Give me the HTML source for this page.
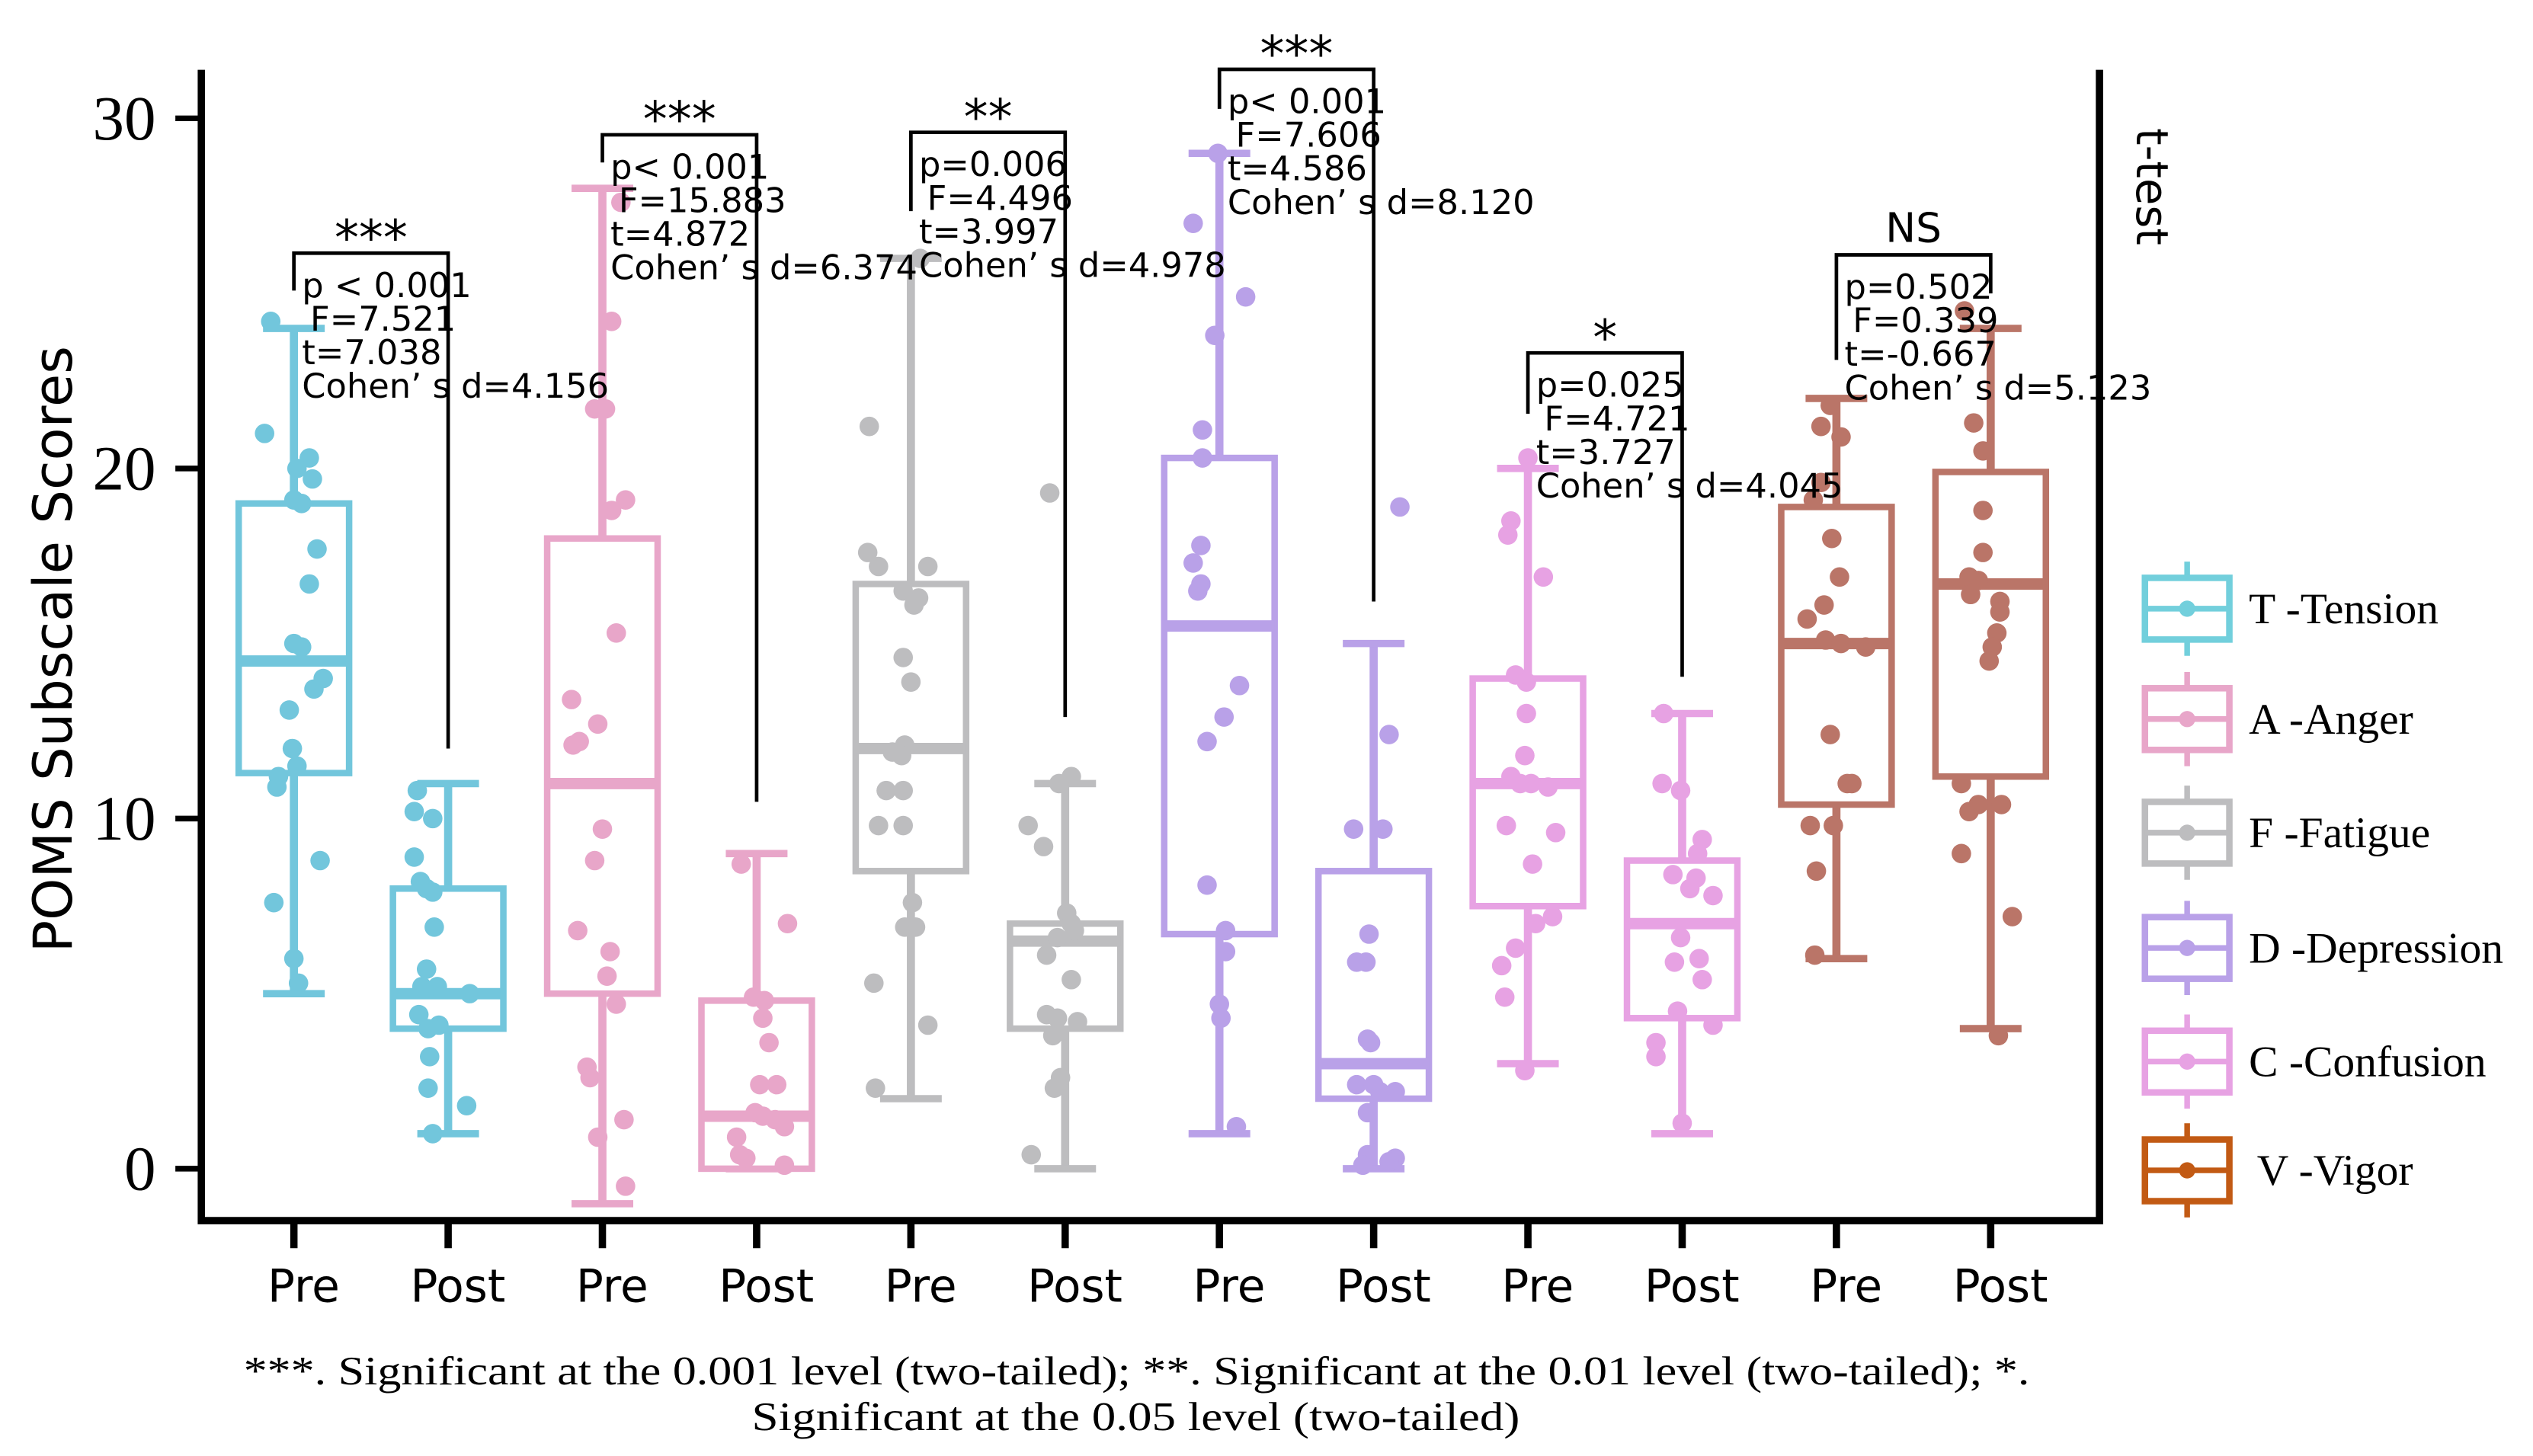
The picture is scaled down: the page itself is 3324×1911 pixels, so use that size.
<!DOCTYPE html>
<html><head><meta charset="utf-8"><style>
html,body{margin:0;padding:0;background:#fff}
svg{display:block}
.sans{font-family:"DejaVu Sans","Liberation Sans",sans-serif}
.serif{font-family:"Liberation Serif",serif}
</style></head><body>
<svg id="chart" width="3324" height="1911" viewBox="0 0 1560 897" preserveAspectRatio="none" xmlns="http://www.w3.org/2000/svg">
<g id="plot"></g>
</svg>
<script>
const categories=["Pre","Post","Pre","Post","Pre","Post","Pre","Post","Pre","Post","Pre","Post"];
const groupColors=["#72c6dc","#72c6dc","#e8a6c9","#e8a6c9","#bdbdbf","#bdbdbf","#b9a1e8","#b9a1e8","#e7a2e3","#e7a2e3","#ba7568","#ba7568"];
const whiskLow=[5,1,-1,0,2,0,1,0,3,1,6,4];
const whiskHigh=[24,11,28,9,26,11,29,15,20,13,22,24];
const q1=[11.3,4,5,0,8.5,4,6.7,2,7.5,4.3,10.4,11.2];
const q3=[19,8,18,4.8,16.7,7,20.3,8.5,14,8.8,18.9,19.9];
const medians=[14.5,5,11,1.5,12,6.5,15.5,3,11,7,15,16.7];
const points=[
[24.2,21,20.3,20,19.7,19.1,19,17.7,16.7,15,14.9,14,13.7,13.1,12,11.5,11.2,10.9,8.8,7.6,6,5.3],
[10.8,10.2,10,8.9,8.2,8,7.9,6.9,5.7,5.2,5.2,5,4.4,4,4.1,3.2,2.3,1.8,1],
[27.6,24.2,21.7,21.7,19.1,18.8,15.3,13.4,12.7,12.2,12.1,9.7,8.8,6.8,6.2,5.5,4.7,2.9,2.6,1.4,0.9,-0.5],
[8.7,7,4.9,4.8,4.3,3.6,2.4,2.4,1.6,1.5,1.4,1.2,0.9,0.4,0.3,0.1],
[26,21.2,17.6,17.2,17.2,16.5,16.3,16.1,14.6,13.9,12.1,11.8,11.9,10.8,10.8,9.8,9.8,7.6,6.9,6.9,5.3,4.1,2.3],
[19.3,11.2,11,9.8,9.2,7.3,7,6.8,6.6,6.1,5.4,4.4,4.2,4.3,3.8,2.6,2.3,0.4],
[29,27,24.9,23.8,21.1,20.3,17.8,17.3,16.7,16.5,13.8,12.9,12.2,8.1,6.8,6.2,4.7,4.3,1.2],
[18.9,12.4,9.7,9.7,6.7,5.9,5.9,3.7,3.6,2.4,2.4,2.2,2.2,1.6,0.4,0.3,0.2,0.1],
[20.3,18.5,18.1,16.9,14.1,13.9,13,11.8,11.2,11,11,10.9,9.8,9.6,8.7,7.2,7,6.3,5.8,4.9,2.8],
[13,11,10.8,9.4,9,8.4,8.3,8,7.8,6.6,6,5.9,5.4,4.5,4.1,3.6,3.2,1.3],
[21.8,21.2,20.9,19.6,19.1,18,16.9,16.1,15.7,15.1,15,14.9,12.4,11,11,9.8,9.8,8.5,6.1],
[24.5,21.3,20.5,18.8,17.6,16.9,16.8,16.4,16.2,15.9,15.3,14.9,14.5,11,10.4,10.4,10.2,9,7.2,3.8]
];
const jitter=[
[-.15,-.19,.1,.02,.12,0,.05,.15,.1,0,.05,.19,.13,-.03,-.01,.02,-.1,-.11,.17,-.13,0,.03],
[-.2,-.22,-.1,-.22,-.18,-.14,-.1,-.09,-.14,-.17,-.07,.14,-.19,-.13,-.06,-.12,-.13,.12,-.1],
[.12,.06,-.05,.02,.15,.06,.09,-.2,-.03,-.15,-.19,0,-.05,-.16,.05,.03,.09,-.1,-.08,.14,-.03,.15],
[-.1,.2,-.02,.05,.04,.08,.02,.13,-.01,.04,.12,.18,-.13,-.11,-.07,.18],
[.06,-.27,-.28,-.21,.11,-.05,.05,.02,-.05,0,-.04,-.06,-.12,-.16,-.05,-.21,-.05,.01,-.04,.03,-.24,.11,-.23],
[-.1,.04,-.04,-.24,-.14,.01,.04,.06,-.05,-.12,.04,-.12,.08,-.05,-.08,-.03,-.07,-.22],
[-.01,-.17,.17,-.03,-.11,-.11,-.12,-.17,-.12,-.14,.13,.03,-.08,-.08,.04,.04,0,.01,.11],
[.17,.1,-.13,.06,-.03,-.11,-.05,-.04,-.02,-.11,0,.04,.14,-.04,-.04,.14,.1,-.07],
[0,-.11,-.13,.1,-.08,-.01,-.01,-.02,-.11,-.05,.02,.13,-.14,.18,.03,.16,.05,-.08,-.17,-.15,-.02],
[-.12,-.13,-.01,.13,.1,-.06,.09,.05,.2,-.01,.11,-.05,.13,-.03,.2,-.17,-.17,0],
[-.04,-.1,.03,-.1,-.15,-.03,.02,-.08,-.19,-.07,.03,.19,-.04,.07,.1,-.17,-.02,-.13,-.14],
[-.17,-.11,-.05,-.05,-.05,-.14,-.08,-.13,.06,.06,.04,.01,-.01,-.19,-.08,.07,-.14,-.19,.14,.05]
];
const yTicks=[0,10,20,30];
const legendLabels=["T -Tension","A -Anger","F -Fatigue","D -Depression","C -Confusion","V -Vigor"];
const legendColors=["#72cfdc","#e8a6c9","#bdbdbf","#b9a1e8","#e7a2e3","#c25a14"];
const stars=["***","***","**","***","*","NS"];
const statP=["p < 0.001","p< 0.001","p=0.006","p< 0.001","p=0.025","p=0.502"];
const statF=["F=7.521","F=15.883","F=4.496","F=7.606","F=4.721","F=0.339"];
const statT=["t=7.038","t=4.872","t=3.997","t=4.586","t=3.727","t=-0.667"];
const statD=["Cohen’ s d=4.156","Cohen’ s d=6.374","Cohen’ s d=4.978","Cohen’ s d=8.120","Cohen’ s d=4.045","Cohen’ s d=5.123"];
const bracketTop=[26.15,29.53,29.6,31.4,23.3,26.1];
const bracketLeftEnd=[25.08,28.74,27.35,30.27,21.56,23.1];
const bracketRightEnd=[12,10.48,12.9,16.2,14.05,25.0];

const NS="http://www.w3.org/2000/svg";
const g=document.getElementById('plot');
const y=v=>720-21.57*v;
const x=i=>181+i*95;
const BW=68;
function el(t,a,p){const e=document.createElementNS(NS,t);for(const k in a)e.setAttribute(k,a[k]);(p||g).appendChild(e);return e;}
function txt(s,a,p){const e=el('text',a,p);e.textContent=s;return e;}

let ax=el('path',{d:"M124 43 V752 H1293 V43",fill:"none",stroke:"#000","stroke-width":4.5});

yTicks.forEach(v=>{
 let t=el('line',{x1:108,x2:124,y1:y(v),y2:y(v),stroke:"#000","stroke-width":3.5});
 
 let l=txt(String(v),{x:96,y:y(v)+13,"text-anchor":"end","font-size":39,class:"serif"});
 
});
let yt=txt("POMS Subscale Scores",{transform:"translate(44,400) rotate(-90)","text-anchor":"middle","font-size":33,class:"sans"});

let tt=txt("t-test",{transform:"translate(1316,115) rotate(90)","text-anchor":"middle","font-size":27,class:"sans"});


categories.forEach((c,i)=>{
 const cx=x(i),col=groupColors[i];
 let tk=el('line',{x1:cx,x2:cx,y1:752,y2:769,stroke:"#000","stroke-width":4.5});
 
 let lb=txt(c,{x:cx+6,y:802,"text-anchor":"middle","font-size":28,class:"sans"});
 
 const bg=el('g',{});
 
 el('line',{x1:cx,x2:cx,y1:y(whiskLow[i]),y2:y(whiskHigh[i]),stroke:col,"stroke-width":5},bg);
 el('line',{x1:cx-19,x2:cx+19,y1:y(whiskLow[i]),y2:y(whiskLow[i]),stroke:col,"stroke-width":4.5},bg);
 el('line',{x1:cx-19,x2:cx+19,y1:y(whiskHigh[i]),y2:y(whiskHigh[i]),stroke:col,"stroke-width":4.5},bg);
 el('rect',{x:cx-BW/2,y:y(q3[i]),width:BW,height:y(q1[i])-y(q3[i]),fill:"#fff",stroke:col,"stroke-width":4},bg);
 el('line',{x1:cx-BW/2,x2:cx+BW/2,y1:y(medians[i]),y2:y(medians[i]),stroke:col,"stroke-width":7},bg);
 points[i].forEach((v,k)=>{
  let p=el('circle',{cx:cx+jitter[i][k]*95,cy:y(v),r:6,fill:col},bg);
  
 });
});

stars.forEach((s,j)=>{
 const lx=x(2*j),rx=x(2*j+1);
 let b=el('path',{d:`M${lx} ${y(bracketLeftEnd[j])} V${y(bracketTop[j])} H${rx} V${y(bracketRightEnd[j])}`,fill:"none",stroke:"#000","stroke-width":2.2});
 
 let st=txt(s,{x:(lx+rx)/2,y:y(bracketTop[j])-(s==="NS"?8:-1),"text-anchor":"middle","font-size":s==="NS"?25:30,class:"sans"});
 
 const ty=y(bracketTop[j])+27;
 [statP[j],statF[j],statT[j],statD[j]].forEach((line,k)=>{
  let t=txt(line,{x:lx+5+(k===1?5:0),y:ty+k*20.7,"font-size":21,class:"sans"});
  
 });
});

legendLabels.forEach((l,i)=>{
 const cy=[375,443,513,584,654,721][i],c=legendColors[i];
 const lg=el('g',{});
 
 el('line',{x1:1347,x2:1347,y1:cy-29,y2:cy+29,stroke:c,"stroke-width":3.5},lg);
 el('rect',{x:1321,y:cy-19,width:52,height:38,fill:"#fff",stroke:c,"stroke-width":4},lg);
 el('line',{x1:1321,x2:1373,y1:cy,y2:cy,stroke:c,"stroke-width":3.5},lg);
 el('circle',{cx:1347,cy:cy,r:5,fill:c},lg);
 txt(l,{x:i===5?1390:1385,y:cy+9,"font-size":27,class:"serif"},lg);
});

let c1=txt("***. Significant at the 0.001 level (two-tailed); **. Significant at the 0.01 level (two-tailed); *.",{x:150,y:853,"font-size":25,textLength:1100,lengthAdjust:"spacingAndGlyphs",class:"serif"});

let c2=txt("Significant at the 0.05 level (two-tailed)",{x:463,y:881,"font-size":25,textLength:473,lengthAdjust:"spacingAndGlyphs",class:"serif"});

</script>
</body></html>
